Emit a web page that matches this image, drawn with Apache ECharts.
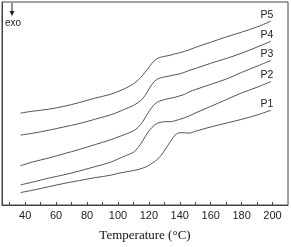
<!DOCTYPE html>
<html>
<head>
<meta charset="utf-8">
<script src="https://cdn.jsdelivr.net/npm/echarts@6/dist/echarts.min.js"></script>
<style>html,body{margin:0;padding:0;background:#fff;}#c{width:291px;height:247px;}</style>
</head>
<body>
<div id="c"></div>
<script>
var temps = [37,45,55,65,75,85,95,100,105,110,113,116,119,122,125,128,131,134,137,140,143,146,150,160,170,180,190,199];
var P1 = [13,15.5,19,22.5,25.5,28.5,31,33,34.5,36,37,38.5,40.5,43.5,47,52,59,66.5,73,75.5,75.5,75,77,81.5,85.5,89.5,94,99];
var P2 = [21,24,28,31.5,35.5,40,44.5,48,51.5,55,60,67,75,81,85,86.5,87,87,88,89.5,91,93,96,103,110,117,123,129];
var P3 = [41,45,49,53.5,58,63,68,71,74,77.5,81,87,95,102,107,109,110.5,111.5,112.5,114,115.5,118,120.5,126,131.5,138.5,145,151];
var P4 = [73,75,78,81.5,85,89.5,94,97,100.5,104,107,111,118,126,131,133,134,135,136,137,138.5,140.5,142.5,148,153,158.5,165,171];
var P5 = [96,98,100,103,107,111.5,115.5,118.5,122,126.5,130.5,135.5,141.5,148,152.5,154.5,155.5,156.5,158,159,160.5,162,164.5,170,175.5,180.5,186,192];
var seriesNames = ['P1','P2','P3','P4','P5'];
var seriesVals = [P1,P2,P3,P4,P5];
var tickValues = [30,40,50,60,70,80,90,100,110,120,130,140,150,160,170,180,190,200];
var labelValues = [40,60,80,100,120,140,160,180,200];

var series = seriesNames.map(function(name, i){
  var vals = seriesVals[i];
  var data = temps.map(function(t, j){
    if (j === temps.length - 1) {
      return {value:[t, vals[j]], label:{show:true, formatter:name, position:'top', distance:1, offset:[-4,0],
        fontFamily:'Liberation Sans', fontSize:10.5, color:'#222'}};
    }
    return [t, vals[j]];
  });
  return {
    type:'line', name:name, data:data, smooth:0.35, showSymbol:true, symbol:'circle', symbolSize:0,
    itemStyle:{color:'#555'},
    label:{show:false},
    lineStyle:{color:'#555', width:1}, silent:true, animation:false
  };
});

var chart = echarts.init(document.getElementById('c'));
chart.setOption({
  backgroundColor:'#fff',
  animation:false,
  grid:{left:2, top:2, right:3, bottom:33, show:true, borderColor:'#444', borderWidth:1},
  xAxis:{
    type:'value', min:25, max:210,
    name:'Temperature (°C)', nameLocation:'middle', nameGap:24,
    nameTextStyle:{fontFamily:'Liberation Serif', fontSize:13, color:'#111'},
    axisLine:{show:true, lineStyle:{color:'#444'}},
    axisTick:{show:true, inside:true, length:3, customValues:tickValues, lineStyle:{color:'#444'}},
    axisLabel:{customValues:labelValues, fontFamily:'Liberation Sans', fontSize:11, color:'#222', margin:5},
    splitLine:{show:false}
  },
  yAxis:{
    type:'value', min:0, max:212,
    axisLine:{show:true, lineStyle:{color:'#444'}},
    axisTick:{show:false}, axisLabel:{show:false}, splitLine:{show:false}
  },
  graphic:[
    {type:'line', shape:{x1:12, y1:3, x2:12, y2:13}, style:{stroke:'#222', lineWidth:1}},
    {type:'polygon', shape:{points:[[9.5,11],[14.5,11],[12,16]]}, style:{fill:'#222'}},
    {type:'text', style:{x:13, y:23, text:'exo', fontFamily:'Liberation Sans', fontSize:10, fill:'#222', align:'center', verticalAlign:'middle'}}
  ],
  series:series
});
</script>
</body>
</html>
